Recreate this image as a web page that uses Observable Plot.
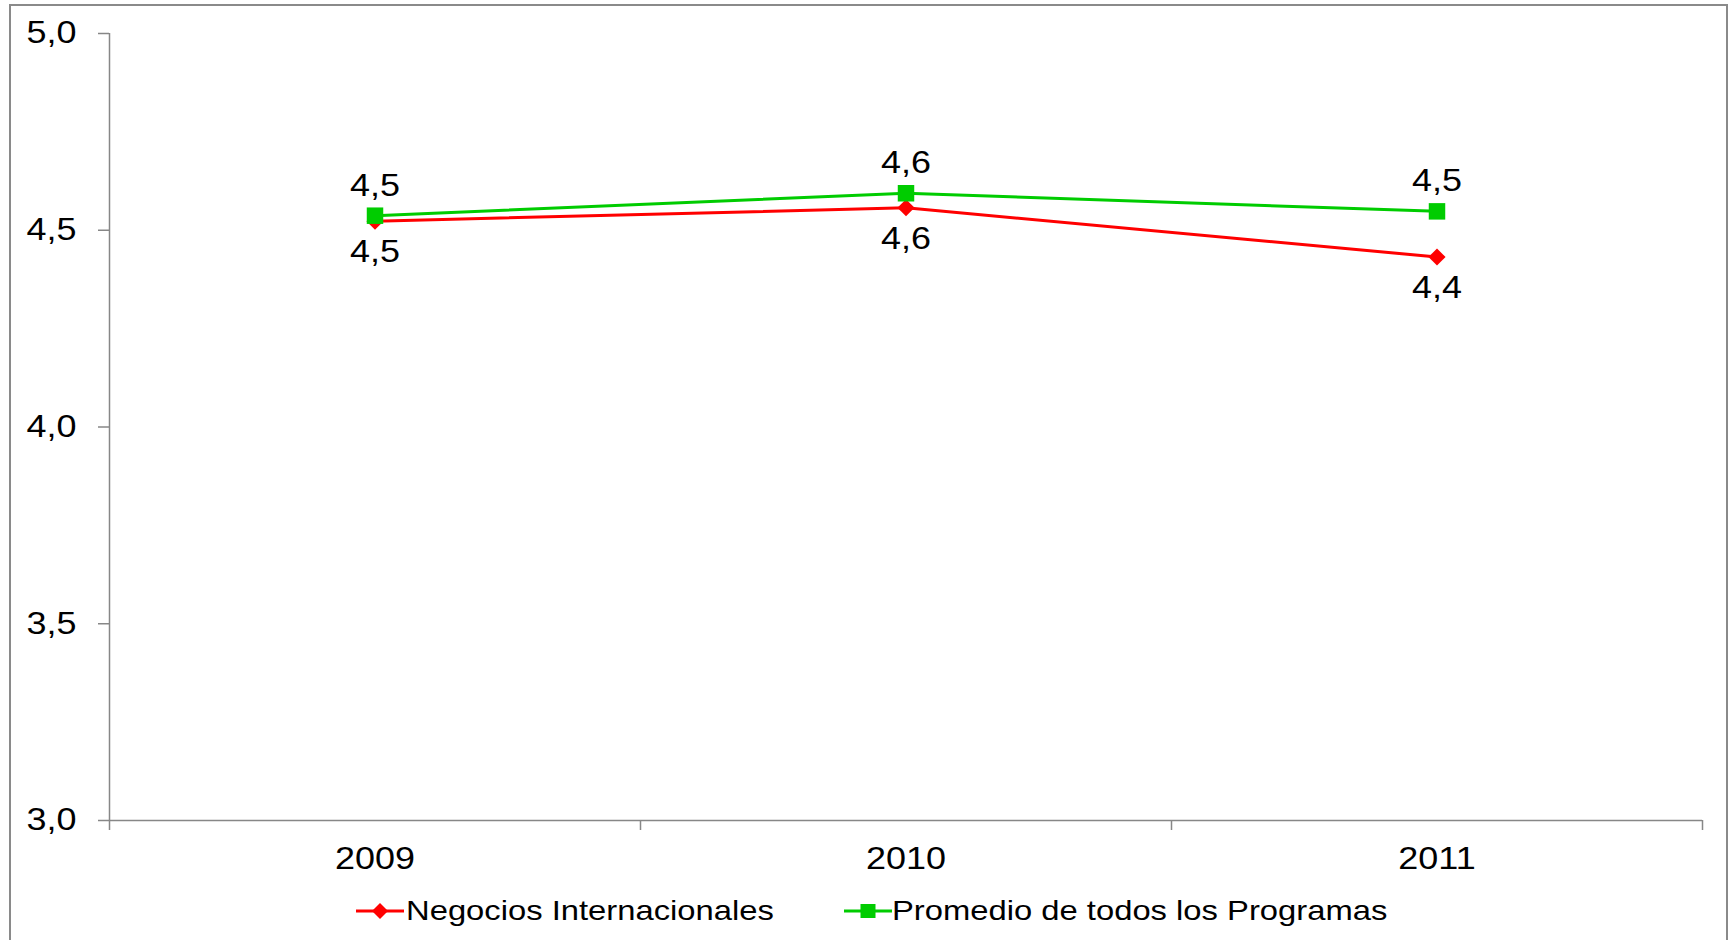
<!DOCTYPE html>
<html>
<head>
<meta charset="utf-8">
<script src="https://cdn.jsdelivr.net/npm/d3@7"></script>
<script src="https://cdn.jsdelivr.net/npm/@observablehq/plot@0.6"></script>
<style>
  html, body { margin: 0; padding: 0; background: #fff; overflow: hidden; }
  body { font-family: "Liberation Sans", Arial, sans-serif; }
  #wrap { position: relative; width: 1733px; height: 940px; }
  #frame { position: absolute; left: 9px; top: 4px; width: 1715px; height: 1000px; border: 2px solid #8a8a8a; pointer-events: none; }
  .leg { position: absolute; top: 896px; height: 30px; }
  .leg svg { position: absolute; top: 0; }
  .leg span { position: absolute; top: -2px; font-size: 28px; color: #000; white-space: nowrap; transform: scaleX(1.17); transform-origin: left center; line-height: 34px; }
</style>
</head>
<body>
<div id="wrap">
  <div id="chart"></div>
  <div id="legend"></div>
  <div id="frame"></div>
</div>
<script>
// ---- data ----
const years = [2009, 2010, 2011];
const seriesNames = ["Negocios Internacionales", "Promedio de todos los Programas"];
const negocios = [4.523, 4.557, 4.432];
const promedio = [4.537, 4.594, 4.548];
const yTicks = [3.0, 3.5, 4.0, 4.5, 5.0];
const xBounds = [2008.5, 2009.5, 2010.5, 2011.5];
const colors = ["#ff0000", "#00cc00"];

const fmt = d3.formatLocale({decimal: ",", thousands: ".", grouping: [3], currency: ["", "€"]}).format(".1f");

const negRows = years.map((y, i) => ({year: y, value: negocios[i]}));
const proRows = years.map((y, i) => ({year: y, value: promedio[i]}));

const axisGray = "#878787";
const FONT = 31;

const plot = Plot.plot({
  width: 1733,
  height: 880,
  marginTop: 33,
  marginBottom: 60,
  marginLeft: 109,
  marginRight: 31,
  style: {background: "transparent", fontFamily: "'Liberation Sans', Arial, sans-serif", color: "#000"},
  x: {type: "linear", domain: [xBounds[0], xBounds[xBounds.length - 1]], label: null},
  y: {type: "linear", domain: [yTicks[0], yTicks[yTicks.length - 1]], label: null},
  marks: [
    Plot.ruleY([yTicks[0]], {stroke: axisGray, strokeWidth: 1.5}),
    Plot.ruleX([xBounds[0]], {y1: yTicks[0], y2: yTicks[yTicks.length - 1], stroke: axisGray, strokeWidth: 1.5}),
    Plot.axisY({ticks: yTicks, tickSize: 11, tickPadding: 22, tickFormat: fmt, fontSize: FONT, stroke: axisGray, strokeWidth: 1.5, fill: "#000", label: null}),
    Plot.axisX({ticks: xBounds, tickSize: 10, tickFormat: () => "", stroke: axisGray, strokeWidth: 1.5, label: null}),
    Plot.axisX({ticks: years, tickSize: 0, tickPadding: 26, tickFormat: d => String(d), fontSize: FONT, fill: "#000", label: null}),
    Plot.line(negRows, {x: "year", y: "value", stroke: colors[0], strokeWidth: 3}),
    Plot.dot(negRows, {x: "year", y: "value", symbol: "diamond2", r: 7.7, fill: colors[0], stroke: "none"}),
    Plot.line(proRows, {x: "year", y: "value", stroke: colors[1], strokeWidth: 3}),
    Plot.dot(proRows, {x: "year", y: "value", symbol: "square", r: 9.3, fill: colors[1], stroke: "none"}),
    Plot.text(negRows, {x: "year", y: "value", text: d => fmt(d.value), dy: 31, fontSize: FONT, fill: "#000"}),
    Plot.text(proRows, {x: "year", y: "value", text: d => fmt(d.value), dy: -30, fontSize: FONT, fill: "#000"})
  ]
});

// horizontal stretch of text to match the reference rendering
const S = 1.16;
plot.querySelectorAll("text").forEach(t => {
  const x = parseFloat(t.getAttribute("x")) || 0;
  const tr = t.getAttribute("transform") || "";
  t.setAttribute("transform", `${tr} translate(${x},0) scale(${S},1) translate(${-x},0)`);
});

document.getElementById("chart").appendChild(plot);

// ---- legend ----
const legendPos = [{sw: 356, tx: 406}, {sw: 844, tx: 892}];
const legend = document.getElementById("legend");
seriesNames.forEach((name, i) => {
  const item = document.createElement("div");
  item.className = "leg";
  item.style.left = "0px";
  const marker = i === 0
    ? `<path d="M24,7 L32,15 L24,23 L16,15 Z" fill="${colors[0]}"/>`
    : `<rect x="16.5" y="8" width="15" height="14" fill="${colors[1]}"/>`;
  item.innerHTML = `<svg width="48" height="30" style="left:${legendPos[i].sw}px" xmlns="http://www.w3.org/2000/svg">
      <line x1="0" y1="15" x2="48" y2="15" stroke="${colors[i]}" stroke-width="3"/>${marker}</svg>
    <span style="left:${legendPos[i].tx}px">${name}</span>`;
  legend.appendChild(item);
});
</script>
</body>
</html>
